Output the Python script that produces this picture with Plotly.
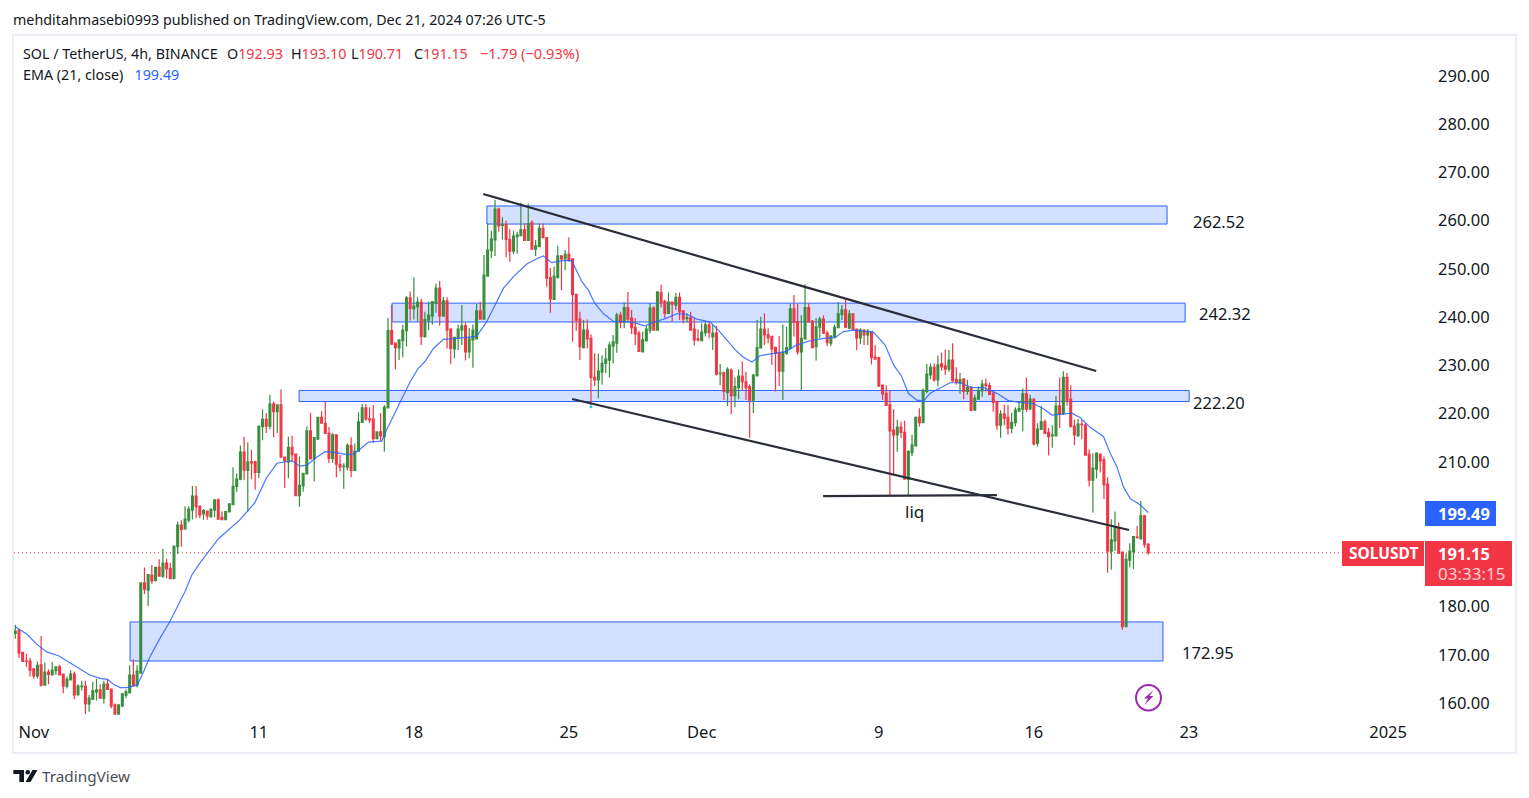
import pandas as pd
import plotly.graph_objects as go

opens = [
174.4,175.1,170.5,168.7,168.7,167.1,165.6,167.9,163.7,166.4,
165.8,166.7,167.5,166.0,163.5,164.8,166.0,161.7,163.4,163.5,
159.8,160.8,162.3,162.7,161.0,163.9,162.9,159.6,157.7,159.4,
161.6,162.1,165.8,163.7,166.2,184.9,183.4,186.5,185.4,188.1,
186.3,189.0,187.9,185.8,192.4,196.9,196.1,197.9,200.0,202.9,
200.8,199.2,199.8,198.6,200.0,202.1,198.5,198.0,199.6,201.1,
204.9,206.4,212.0,208.2,210.0,210.0,207.8,217.3,218.8,217.4,
222.0,220.4,221.8,211.0,210.0,213.0,211.6,203.0,205.0,207.5,
216.4,210.7,214.7,219.2,218.0,215.9,210.7,215.6,209.5,209.0,
208.9,213.4,208.2,212.2,218.2,221.2,218.9,218.9,214.8,216.2,
215.2,221.2,237.2,234.6,233.6,235.1,237.2,244.0,241.7,242.2,
243.1,235.9,239.4,240.2,242.9,246.0,240.2,243.4,237.5,233.4,
235.6,237.3,238.2,232.8,235.3,235.5,241.3,239.6,248.5,253.8,
256.0,262.4,259.0,259.2,256.1,253.7,256.7,256.9,258.1,255.9,
259.6,254.1,254.6,258.4,256.5,248.2,243.7,248.2,252.7,252.1,
253.0,252.1,244.7,239.6,233.7,237.3,235.6,227.5,227.0,228.6,
230.4,231.1,234.0,234.6,240.4,238.9,242.0,239.8,237.9,236.7,
232.8,235.1,237.3,241.9,237.3,245.1,243.3,240.8,243.1,242.5,
244.1,241.3,239.7,239.9,237.5,235.5,235.1,236.8,238.4,235.9,
236.7,228.3,228.5,224.4,229.0,223.7,225.4,227.8,226.6,225.6,
222.8,227.8,233.6,237.5,236.4,236.0,233.7,232.5,228.8,232.5,
233.5,241.7,239.1,232.8,235.5,242.0,239.2,233.9,237.9,239.6,
236.7,234.6,236.0,237.8,240.5,241.5,237.7,240.7,237.5,235.7,
237.3,236.3,237.0,231.7,231.6,225.9,224.2,221.8,216.6,215.6,
217.2,216.1,206.4,211.9,213.3,219.3,218.1,224.6,228.0,229.6,
227.0,230.3,229.9,229.2,231.1,227.1,226.3,227.2,224.6,225.5,
220.7,223.0,224.7,226.1,225.8,224.2,222.5,217.6,219.9,219.2,
217.0,218.1,220.5,220.9,224.1,221.0,223.0,213.8,216.7,218.3,
216.1,215.4,215.4,221.6,220.0,227.5,223.0,217.4,215.4,217.8,
217.6,211.6,206.2,208.5,211.6,210.4,205.4,191.5,193.6,196.4,
191.3,175.8,189.6,191.4,194.4,194.0,198.8,192.93,
]
highs = [
176.2,175.3,170.5,170.2,169.4,167.1,168.6,173.9,168.4,167.0,
168.5,167.5,167.9,166.0,165.5,166.8,166.5,163.9,164.6,164.6,
161.7,164.4,165.0,163.9,164.6,164.8,162.9,159.9,159.6,162.0,
162.8,167.8,169.1,167.8,184.9,188.1,186.7,188.6,188.1,189.8,
191.9,189.9,189.0,192.7,197.6,197.9,200.8,200.8,205.0,205.0,
200.8,200.2,199.8,200.2,202.2,202.4,199.7,199.7,201.4,208.9,
207.6,213.4,215.2,214.0,212.5,210.2,217.4,220.9,220.1,223.9,
222.5,221.8,225.0,211.1,215.2,215.4,211.6,211.1,207.6,217.3,
220.2,215.1,219.2,220.5,222.5,217.2,215.9,215.6,211.4,209.7,
213.8,215.1,213.8,220.3,222.0,222.0,221.3,221.8,216.3,220.1,
221.8,239.8,242.5,234.6,235.3,238.4,244.4,245.3,248.2,244.1,
243.8,241.1,243.2,243.2,246.9,247.5,244.2,244.1,237.7,235.9,
238.5,242.5,238.9,237.7,238.5,242.7,243.2,252.9,259.4,257.9,
264.3,262.7,260.7,260.0,258.2,257.9,257.7,263.7,259.4,263.5,
260.1,256.0,259.4,259.4,256.5,250.2,250.5,254.8,252.7,253.9,
256.5,252.1,244.7,241.1,239.4,239.5,236.4,232.5,232.4,232.1,
233.6,234.9,236.3,240.9,241.1,243.1,245.2,241.5,239.8,237.2,
237.0,238.2,242.9,242.2,245.4,246.7,243.6,245.1,243.2,245.0,
245.1,241.3,240.8,241.1,239.8,237.5,238.7,239.1,239.2,238.4,
238.2,230.3,228.7,229.6,229.4,227.5,229.2,230.8,228.7,226.1,
228.2,239.4,240.1,240.8,237.7,236.1,233.9,236.1,238.5,238.0,
242.7,244.6,242.7,240.4,246.8,242.9,239.4,239.8,240.1,240.4,
237.2,236.1,238.4,243.1,242.5,243.7,241.5,240.8,237.5,237.7,
237.5,237.5,237.1,234.2,231.6,225.9,225.9,224.8,220.9,218.7,
218.3,218.5,212.4,215.6,219.4,221.1,225.2,230.3,230.4,230.4,
232.0,232.6,233.3,233.2,234.6,229.6,228.4,227.3,227.0,225.5,
223.9,225.6,227.0,227.3,226.4,224.5,222.5,220.7,221.8,221.8,
220.2,221.3,222.5,225.2,227.5,223.9,223.2,218.0,221.6,218.8,
217.0,217.6,223.7,227.5,228.8,228.4,225.9,218.7,218.9,218.7,
218.1,212.6,211.8,212.0,211.6,211.1,206.8,198.1,199.7,197.4,
191.3,191.0,193.1,194.6,196.7,201.9,199.0,193.10,
]
lows = [
173.3,169.3,168.6,167.5,165.5,165.0,165.1,163.4,163.6,163.9,
165.8,165.8,165.8,162.0,163.0,164.8,160.8,161.7,162.6,157.7,
158.2,160.6,160.5,161.0,159.9,162.7,158.9,157.7,157.7,159.1,
161.0,162.1,163.4,163.2,166.2,182.6,180.1,184.7,185.2,186.3,
185.9,185.9,185.8,185.8,190.9,192.4,195.9,197.4,198.1,198.3,
198.3,198.0,198.0,198.6,198.5,198.0,198.0,198.0,199.6,201.0,
203.8,206.2,206.2,199.7,206.4,204.2,206.6,214.5,216.0,216.7,
215.1,216.0,210.8,204.6,206.6,210.0,203.0,200.7,203.8,207.5,
210.5,205.9,214.7,218.0,215.8,209.7,209.8,206.8,208.0,204.4,
208.2,206.8,208.2,212.1,218.1,218.5,218.0,214.0,214.7,214.2,
212.1,221.2,234.2,229.2,231.1,231.7,233.9,239.3,239.5,239.1,
234.2,235.9,237.3,238.5,240.9,238.2,240.1,233.5,230.3,231.5,
233.2,234.2,231.0,231.5,229.5,235.5,239.6,239.6,248.5,252.2,
252.7,257.7,256.1,252.4,251.5,253.1,253.2,256.9,255.9,255.9,
254.1,252.7,254.5,256.5,246.3,240.9,243.7,248.0,245.6,249.8,
251.5,234.9,237.2,231.1,233.5,233.5,221.8,225.7,223.2,226.0,
228.4,227.5,230.4,232.6,237.7,237.7,238.9,236.5,234.2,232.9,
232.8,234.9,236.6,237.3,237.3,242.0,239.8,240.8,239.1,241.5,
239.4,238.7,238.9,237.3,234.1,234.9,235.1,236.0,235.6,233.2,
227.9,225.9,222.8,221.6,219.9,221.3,223.0,224.8,222.8,215.0,
220.1,227.7,233.5,234.2,234.6,230.1,224.6,225.7,222.8,232.2,
233.3,236.0,232.2,224.9,235.4,238.9,233.5,231.0,235.6,236.5,
234.0,234.0,235.6,237.7,239.4,237.7,237.5,237.2,233.2,234.4,
234.2,234.2,230.2,231.3,225.6,222.8,221.7,202.9,207.1,212.1,
214.9,206.4,203.1,211.2,213.3,217.3,218.1,224.2,227.1,226.6,
225.6,228.9,228.0,228.7,226.6,226.0,224.1,223.0,223.9,220.5,
220.6,223.0,223.5,224.6,223.9,220.4,216.6,215.0,217.6,215.6,
215.9,217.3,220.4,216.3,220.4,220.7,213.4,213.2,216.6,215.8,
211.3,212.9,215.4,217.0,219.7,221.7,217.2,213.5,215.2,214.7,
211.4,204.9,199.5,206.6,207.8,202.3,187.0,187.6,191.5,190.9,
175.2,175.8,188.1,187.8,194.1,194.0,192.2,190.71,
]
closes = [
174.9,170.4,168.6,168.6,166.8,165.6,167.8,163.7,166.4,165.9,
166.8,167.5,165.8,163.5,164.9,166.0,161.7,163.5,163.5,159.8,
161.0,162.5,162.7,161.0,163.9,162.8,159.4,157.7,159.6,161.9,
162.3,165.8,163.7,166.6,184.9,183.6,186.6,185.3,188.1,186.3,
189.0,187.8,185.8,192.5,196.9,196.0,198.1,200.2,202.9,200.7,
199.0,199.9,198.8,200.2,202.1,198.1,198.0,199.7,201.3,204.9,
206.4,212.0,208.3,210.0,209.8,207.8,217.4,218.8,217.4,222.0,
220.4,221.8,211.0,210.2,213.0,211.5,203.0,205.1,207.6,216.4,
210.6,215.0,219.2,218.0,215.9,210.7,215.6,209.5,208.9,209.1,
213.4,208.2,212.2,218.3,221.2,218.9,218.7,214.8,216.2,215.4,
221.3,237.2,234.4,233.6,235.3,237.3,244.0,241.8,242.3,243.1,
236.0,239.5,240.4,243.2,246.0,240.2,243.4,237.3,233.5,235.8,
237.5,238.2,232.8,235.5,237.3,241.3,239.6,248.7,253.9,256.2,
262.4,258.9,259.2,256.1,253.7,256.8,257.0,258.1,255.9,259.4,
254.1,254.8,258.4,256.5,248.1,243.8,248.5,252.7,252.1,253.0,
251.8,244.7,239.4,233.9,237.3,235.5,227.5,227.0,228.8,230.4,
231.3,234.2,234.9,240.4,238.9,242.0,239.6,237.8,236.5,232.9,
235.3,237.5,241.9,237.3,245.2,243.1,240.8,243.1,242.7,244.1,
241.1,239.6,239.9,237.3,235.3,235.3,236.9,238.4,236.8,236.7,
228.2,228.4,224.6,229.2,223.7,225.6,227.8,226.6,225.4,222.8,
228.0,233.7,237.5,236.3,235.7,233.4,232.5,228.8,232.7,233.7,
241.7,238.9,232.8,235.6,242.0,239.0,233.7,238.0,239.6,236.7,
234.7,236.1,237.9,240.7,241.5,237.9,240.7,237.5,235.7,237.3,
236.3,237.1,231.6,231.3,225.7,224.1,221.7,216.4,215.6,217.2,
216.1,206.4,212.1,213.5,219.2,218.1,224.8,228.2,229.6,227.0,
230.1,229.7,229.2,231.1,226.8,226.5,227.0,224.6,225.4,220.7,
223.2,224.8,226.1,225.8,224.0,222.3,217.6,219.9,219.0,217.0,
218.2,220.7,221.1,224.1,220.9,223.0,213.7,216.8,218.3,215.9,
215.2,215.6,221.6,219.9,227.5,222.8,217.3,215.6,217.8,217.7,
211.4,206.2,208.7,211.8,210.2,205.2,191.5,193.8,196.4,191.0,
175.8,189.8,191.5,194.5,194.3,198.8,192.9,191.15,
]

# EMA (21, close) at these candle numbers
ema_pos = [0,3.1,5.8,8.5,11.7,14.8,17.5,20.2,23,25,26.6,28.4,30.2,33,34.2,36.5,39.2,41.9,44.6,46,47.8,50,55,60.9,
           64.9,68,70.9,73,74.9,77.1,79,81.2,83.9,87,89.8,91.6,93.4,95.7,99.3,100.6,102,104.7,107,109.2,111,113.3,
           116,118.3,121.4,125,127.7,130,132.3,135,138.6,141.3,143.1,145.3,148.5,150.8,152,153.5,155.3,157,159.4,
           162.1,165.7,168.4,170.6,172.9,176.5,179.2,182,184.7,188.3,190.5,192.8,195.1,197.3,199.6,201.8,205.4,209,
           211.7,215.4,219,222.1,224.4,227.1,229.8,232.5,235.7,238,240.2,242,244.3,246.1,247.9,250.6,253.3,256,
           259.2,262.4,266,269.1,272.3,275.9,278.6,280.9,283.6,286.3,288.5,291.2,294.9,296.7,298.5,300.3,302.1,304.8,307]
ema_vals = [175.8,174.3,172.2,170.6,169.8,168.4,167.2,165.8,165.1,164.9,163.9,163.2,163.2,163.7,165.5,169.6,173.4,176.9,181.0,183.1,186.5,189.0,194.0,198.0,
            201.5,206.6,209.7,209.9,210.2,209.1,209.3,210.7,212.1,211.9,211.5,211.6,212.6,214.1,214.3,216.6,218.8,222.8,226.6,229.4,230.8,233.5,
            235.4,235.5,235.7,236.0,239.0,242.5,246.0,248.4,251.0,252.1,252.7,251.3,251.7,251.7,249.8,247.4,245.6,242.9,240.7,
            239.1,239.1,238.7,238.2,238.9,239.8,240.7,240.6,239.6,239.0,237.3,235.3,233.2,231.7,230.7,232.0,232.5,232.9,
            234.2,235.1,235.6,235.75,237.0,237.3,237.1,236.9,234.2,230.1,227.7,224.2,222.8,222.6,224.2,225.3,226.4,226.4,
            225.4,225.4,224.2,222.7,222.3,222.1,221.0,219.7,219.9,220.1,219.2,217.2,215.2,211.8,209.0,204.8,202.4,201.1,199.49]

tick_pos = [5, 66, 108, 150, 186, 234, 276, 318, 372]
tick_text = ["Nov", "11", "18", "25", "Dec", "9", "16", "23", "2025"]
price_ticks = [160, 170, 180, 210, 220, 230, 240, 250, 260, 270, 280, 290]

zone_start = [127.8, 102.1, 76.9, 31.1]
zone_end = [312.1, 317.0, 318.1, 311.0]
zone_top = [263.05, 242.9, 224.8, 176.8]
zone_bottom = [259.3, 239.0, 222.5, 168.7]

trend_pos = [[126.8, 292.9], [150.9, 301.8], [218.9, 266.0]]
trend_price = [[265.53, 228.83], [223.03, 195.87], [202.9, 203.1]]

GREEN, RED, BLUE, INK = "#388E3C", "#F23645", "#2962FF", "#131722"
FONT = "Noto Sans"
W, H = 1529, 798
L, R, T, B = 14, 1425, 35, 720
base = pd.Timestamp("2024-10-31 00:00")


def at(n):
    return base + pd.Timedelta(hours=4 * n)


def px(x):
    return (x - L) / (R - L)


def py(y):
    return (B - y) / (B - T)


dates = [at(i) for i in range(len(closes))]

fig = go.Figure()
fig.add_trace(go.Candlestick(
    x=dates, open=opens, high=highs, low=lows, close=closes,
    increasing=dict(line=dict(color=GREEN, width=1.2), fillcolor=GREEN),
    decreasing=dict(line=dict(color=RED, width=1.2), fillcolor=RED),
    whiskerwidth=0, showlegend=False, hoverinfo="skip"))
fig.add_trace(go.Scatter(x=[at(n) for n in ema_pos], y=ema_vals, mode="lines",
                         line=dict(color=BLUE, width=1.2), opacity=0.85, showlegend=False, hoverinfo="skip"))
for tp, tv in zip(trend_pos, trend_price):
    fig.add_trace(go.Scatter(x=[at(n) for n in tp], y=tv, mode="lines",
                             line=dict(color="#2A2E39", width=2.2), showlegend=False, hoverinfo="skip"))
fig.add_trace(go.Scatter(x=[at(156)], y=[221.4], mode="markers",
                         marker=dict(color="#26C6DA", size=3), showlegend=False, hoverinfo="skip"))

shapes = []
# outer frame
shapes.append(dict(type="rect", xref="paper", yref="paper", x0=px(13), x1=px(1516), y0=py(753), y1=py(35),
                   line=dict(color="#EBEDF5", width=2), layer="below"))
for a, b, t, bt in zip(zone_start, zone_end, zone_top, zone_bottom):
    shapes.append(dict(type="rect", xref="x", yref="y", x0=at(a), x1=at(b), y0=bt, y1=t,
                       fillcolor="rgba(41,98,255,0.2)", line=dict(color=BLUE, width=1), layer="below"))
# last price line
shapes.append(dict(type="line", xref="paper", yref="y", x0=0, x1=px(1342), y0=closes[-1], y1=closes[-1],
                   line=dict(color=RED, width=1, dash="1px,3px"), layer="below"))
# price tags
for x0, x1, y0, y1, c in [(1425, 1496, 501, 526, BLUE), (1342, 1424, 541, 566, RED), (1425, 1512, 541, 586, RED)]:
    shapes.append(dict(type="rect", xref="paper", yref="paper", x0=px(x0), x1=px(x1), y0=py(y1), y1=py(y0),
                       fillcolor=c, line=dict(width=0), layer="above"))
# flash icon
shapes.append(dict(type="circle", xref="paper", yref="paper", x0=px(1136), x1=px(1161), y0=py(710.5), y1=py(685),
                   line=dict(color="#9C27B0", width=2), layer="above"))


def path_px(pts):
    return "M " + " L ".join(f"{px(x):.5f},{py(y):.5f}" for x, y in pts) + " Z"


shapes.append(dict(type="path", xref="paper", yref="paper",
                   path=path_px([(1153.5, 690), (1144, 698.5), (1148, 698.5), (1144.5, 705), (1153.5, 696), (1149.5, 696)]),
                   fillcolor="#9C27B0", line=dict(width=0), layer="above"))
# TradingView logo
for pts in ([(13.3, 770), (24, 770), (24, 782), (19.3, 782), (19.3, 774), (13.3, 774)],
            [(32.5, 770), (37.5, 770), (30.5, 782), (25.5, 782)]):
    shapes.append(dict(type="path", xref="paper", yref="paper", path=path_px(pts),
                       fillcolor=INK, line=dict(width=0), layer="above"))
shapes.append(dict(type="circle", xref="paper", yref="paper", x0=px(25.5), x1=px(30), y0=py(774.5), y1=py(770),
                   fillcolor=INK, line=dict(width=0), layer="above"))


def note(x, y, text, size=16.5, color=INK, anchor="center"):
    return dict(xref="paper", yref="paper", x=px(x), y=py(y), text=text, showarrow=False,
                xanchor=anchor, yanchor="middle", align="left",
                font=dict(family=FONT, size=size, color=color))


def red(s):
    return f'<span style="color:{RED}">{s}</span>'


annots = [
    note(11, 20, "mehditahmasebi0993 published on TradingView.com, Dec 21, 2024 07:26 UTC-5", 14.3, anchor="left"),
    note(21, 53.5, "SOL / TetherUS, 4h, BINANCE", 14.3, anchor="left"),
    note(225, 53.5, "O" + red("192.93"), 14.3, anchor="left"),
    note(289, 53.5, "H" + red("193.10"), 14.3, anchor="left"),
    note(349, 53.5, "L" + red("190.71"), 14.3, anchor="left"),
    note(412, 53.5, "C" + red("191.15"), 14.3, anchor="left"),
    note(478, 53.5, red("−1.79 (−0.93%)"), 14.6, anchor="left"),
    note(21, 74.5, f'EMA (21, close)\u00a0\u00a0\u00a0<span style="color:{BLUE}">199.49</span>', 14.3, anchor="left"),
    note(1218.5, 221, "262.52"), note(1225, 313, "242.32"), note(1218.5, 403, "222.20"), note(1207.5, 652, "172.95"),
    note(914.5, 511, "liq", 17),
    note(1463.5, 513, "<b>199.49</b>", 16.5, "#FFFFFF"),
    note(1383, 553, "<b>SOLUSDT</b>", 15.5, "#FFFFFF"),
    note(1463.5, 553, "<b>191.15</b>", 16.5, "#FFFFFF"),
    note(1471, 573, "03:33:15", 17, "#FFD0D5"),
    note(40, 776, "TradingView", 15.3, "#4A4E59", "left"),
]

fig.update_layout(
    width=W, height=H, margin=dict(l=L, r=W - R, t=T, b=H - B),
    paper_bgcolor="#FFFFFF", plot_bgcolor="#FFFFFF", showlegend=False,
    shapes=shapes, annotations=annots,
    font=dict(family=FONT, color=INK, size=16.5),
    xaxis=dict(range=[at(-0.35), at(382.0)], rangeslider=dict(visible=False), showgrid=False, zeroline=False,
               showline=False, tickmode="array", tickvals=[at(n) for n in tick_pos], ticktext=tick_text,
               ticks="", tickfont=dict(family=FONT, size=16.5, color=INK)),
    yaxis=dict(range=[156.47, 298.5], side="right", showgrid=False, zeroline=False, showline=False,
               tickmode="array", tickvals=price_ticks, ticktext=[f"{v:.2f}" for v in price_ticks],
               ticks="", ticklabelstandoff=12, tickfont=dict(family=FONT, size=16.5, color=INK)),
)

fig.write_html("out.html", config=dict(displayModeBar=False),
               post_script="document.body.style.margin='0';document.documentElement.style.overflow='hidden';")
